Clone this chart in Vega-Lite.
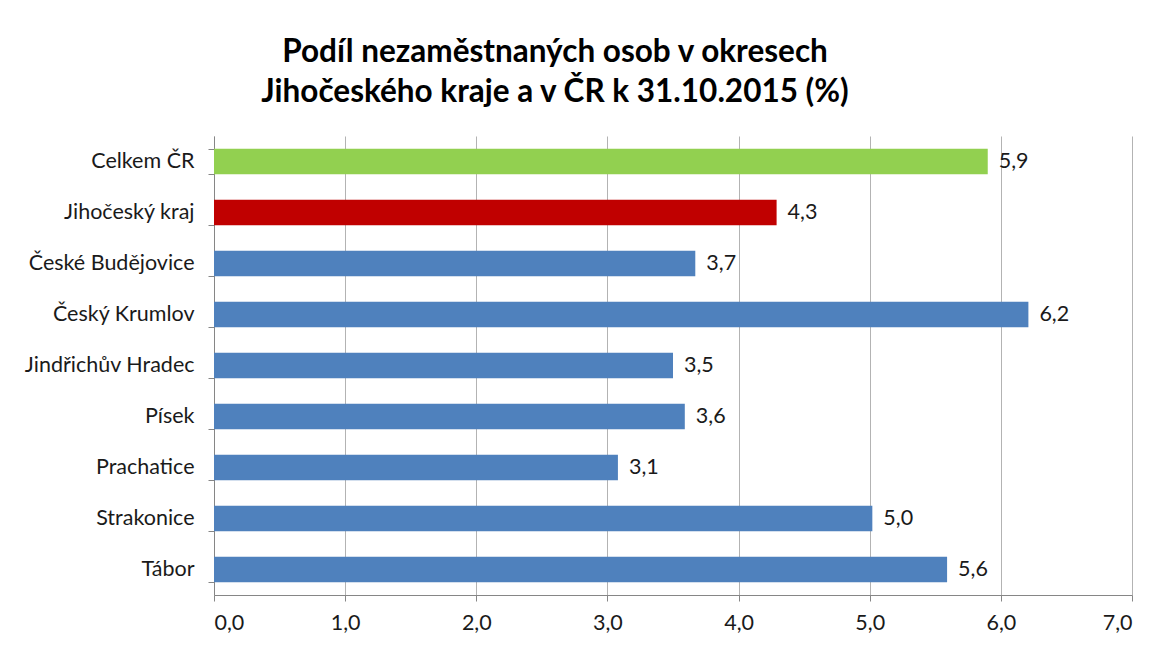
{
  "$schema": "https://vega.github.io/schema/vega-lite/v6.json",
  "autosize": "none",
  "width": 918,
  "height": 459,
  "padding": {"left": 214, "top": 136, "right": 28, "bottom": 53},
  "background": "white",
  "title": {
    "text": ["Podíl nezaměstnaných osob v okresech", "Jihočeského kraje a v ČR k 31.10.2015 (%)"],
    "font": "Lato",
    "fontSize": 31.5,
    "fontWeight": "bold",
    "color": "#000000",
    "anchor": "middle",
    "dx": -118,
    "offset": 17,
    "lineHeight": 40
  },
  "data": {
    "values": [
      {"okres": "Celkem ČR", "podil": 5.9, "typ": "cr"},
      {"okres": "Jihočeský kraj", "podil": 4.29, "typ": "kraj"},
      {"okres": "České Budějovice", "podil": 3.67, "typ": "okres"},
      {"okres": "Český Krumlov", "podil": 6.21, "typ": "okres"},
      {"okres": "Jindřichův Hradec", "podil": 3.5, "typ": "okres"},
      {"okres": "Písek", "podil": 3.59, "typ": "okres"},
      {"okres": "Prachatice", "podil": 3.08, "typ": "okres"},
      {"okres": "Strakonice", "podil": 5.02, "typ": "okres"},
      {"okres": "Tábor", "podil": 5.59, "typ": "okres"}
    ]
  },
  "encoding": {
    "y": {
      "field": "okres",
      "type": "nominal",
      "sort": null,
      "title": null,
      "scale": {"paddingInner": 0.5, "paddingOuter": 0.25},
      "axis": {
        "tickBand": "extent",
        "tickSize": 6,
        "tickColor": "#868686",
        "domainColor": "#868686",
        "labelFont": "Lato",
        "labelFontSize": 21.5,
        "labelColor": "#1a1a1a",
        "labelPadding": 14,
        "grid": false
      }
    },
    "x": {
      "field": "podil",
      "type": "quantitative",
      "title": null,
      "scale": {"domain": [0, 7], "nice": false},
      "axis": {
        "values": [0, 1, 2, 3, 4, 5, 6, 7],
        "format": ".1f",
        "grid": true,
        "gridColor": "#b3b3b3",
        "tickSize": 6,
        "tickColor": "#868686",
        "domainColor": "#868686",
        "labelFont": "Lato",
        "labelFontSize": 21.5,
        "labelColor": "#1a1a1a",
        "labelPadding": 11
      }
    }
  },
  "layer": [
    {
      "mark": {"type": "bar"},
      "encoding": {
        "color": {
          "field": "typ",
          "type": "nominal",
          "scale": {"domain": ["cr", "kraj", "okres"], "range": ["#92D050", "#C00000", "#4F81BD"]},
          "legend": null
        }
      }
    },
    {
      "mark": {"type": "text", "align": "left", "baseline": "middle", "dx": 11, "font": "Lato", "fontSize": 21.5, "color": "#1a1a1a"},
      "encoding": {
        "text": {"field": "podil", "type": "quantitative", "format": ".1f"}
      }
    }
  ],
  "config": {
    "view": {"stroke": null},
    "locale": {
      "number": {"decimal": ",", "thousands": " ", "grouping": [3], "currency": ["", " Kč"]}
    }
  }
}
